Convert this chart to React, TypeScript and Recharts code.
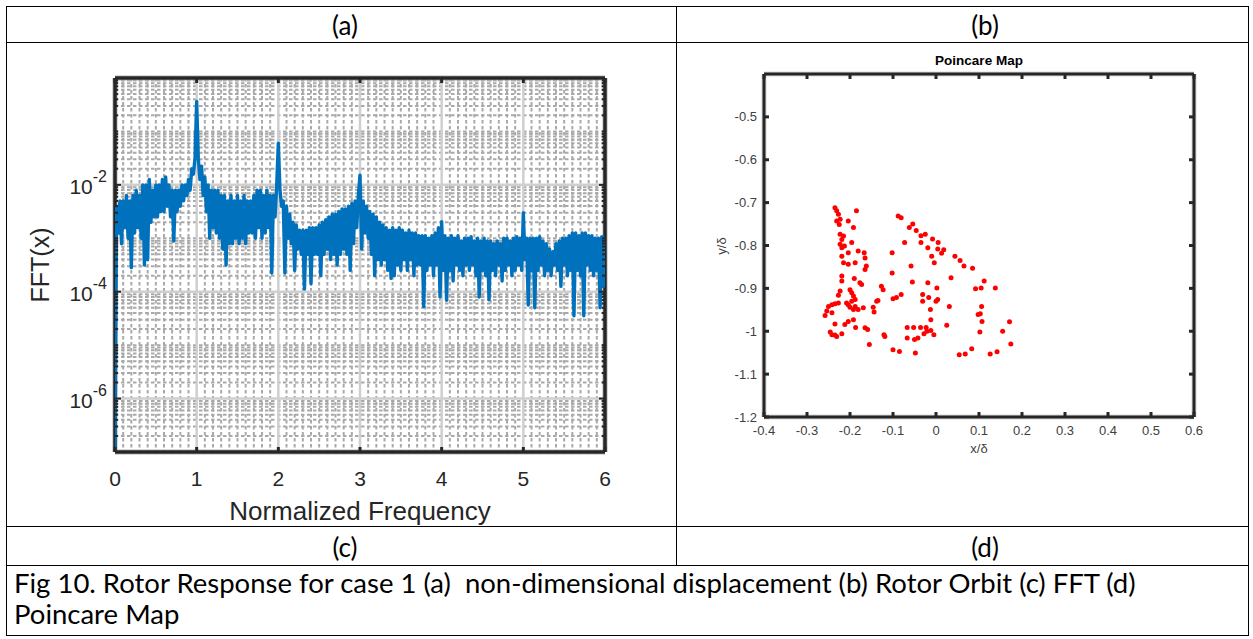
import React from "react";
import {
  LineChart,
  Line,
  XAxis,
  YAxis,
  CartesianGrid,
  ScatterChart,
  Scatter,
} from "recharts";

// FFT(x): log10 of the magnitude, one bin every 0.02 of normalized frequency
const fftBinWidth = 0.02;
const fftLog0to1 = [
  -7.0, -2.4, -2.9, -2.3, -3.1, -2.3, -2.8, -2.2, -3.0, -2.3,
  -3.55, -2.2, -2.9, -2.1, -2.8, -2.2, -3.0, -2.0, -3.5, -2.0,
  -3.4, -1.9, -2.7, -2.1, -2.6, -2.0, -2.6, -2.0, -2.5, -1.9,
  -2.5, -1.85, -2.4, -2.0, -2.6, -2.1, -3.05, -2.1, -2.5, -2.1,
  -2.4, -2.0, -2.3, -2.0, -2.2, -1.9, -2.1, -1.7, -1.8, -1.5,
];
const fftLog1to2 = [
  -0.44, -1.5, -1.9, -1.65, -2.2, -1.85, -2.5, -2.0, -3.0, -2.1,
  -2.8, -2.1, -2.9, -2.1, -3.0, -2.2, -3.2, -2.2, -3.5, -2.3,
  -3.1, -2.2, -3.1, -2.3, -3.0, -2.2, -3.1, -2.3, -3.0, -2.2,
  -3.1, -2.3, -2.9, -2.3, -2.9, -2.2, -3.0, -2.1, -2.8, -2.1,
  -3.0, -2.2, -2.9, -2.1, -2.8, -2.2, -3.65, -2.2, -2.6, -2.0,
];
const fftLog2to3 = [
  -1.22, -2.1, -2.4, -2.3, -3.65, -2.4, -3.0, -2.55, -3.1, -2.7,
  -3.6, -2.75, -3.2, -2.85, -3.3, -2.85, -3.95, -2.85, -3.3, -2.8,
  -3.85, -2.8, -3.3, -2.8, -3.3, -2.75, -3.7, -2.7, -3.3, -2.65,
  -3.2, -2.6, -3.4, -2.55, -3.3, -2.55, -3.5, -2.5, -3.3, -2.45,
  -3.2, -2.45, -3.3, -2.4, -3.6, -2.35, -3.1, -2.3, -2.8, -2.2,
];
const fftLog3to4 = [
  -1.82, -3.2, -2.3, -2.9, -2.4, -3.0, -2.5, -3.3, -2.55, -3.7,
  -2.6, -3.4, -2.7, -3.5, -2.75, -3.4, -2.8, -3.6, -2.85, -3.75,
  -2.8, -3.7, -2.85, -3.5, -2.8, -3.6, -2.85, -3.4, -2.9, -3.6,
  -2.85, -3.4, -2.9, -3.7, -2.9, -3.5, -2.95, -3.5, -2.95, -4.28,
  -2.95, -3.6, -3.0, -3.5, -2.95, -3.7, -2.9, -3.5, -2.8, -4.1,
];
const fftLog4to5 = [
  -2.69, -3.6, -2.95, -4.16, -3.0, -3.6, -2.95, -3.8, -3.0, -3.5,
  -2.95, -3.6, -3.05, -3.7, -3.0, -3.5, -3.0, -3.6, -2.97, -3.5,
  -3.05, -3.7, -3.0, -4.1, -3.05, -3.6, -3.0, -3.7, -3.05, -4.15,
  -3.05, -3.6, -3.1, -3.7, -3.05, -3.5, -3.1, -3.8, -3.0, -3.6,
  -3.0, -3.5, -3.05, -3.7, -3.0, -3.6, -2.97, -3.5, -3.0, -3.6,
];
const fftLog5to6 = [
  -2.52, -3.4, -3.0, -4.25, -3.0, -3.6, -3.0, -4.3, -3.0, -3.6,
  -2.97, -3.5, -3.05, -3.7, -3.1, -3.6, -3.2, -3.7, -3.25, -3.5,
  -3.1, -3.6, -3.05, -3.9, -3.0, -3.5, -3.0, -3.7, -2.95, -3.6,
  -2.9, -4.45, -2.9, -3.6, -2.95, -3.7, -2.9, -4.45, -2.9, -3.5,
  -2.95, -3.6, -2.95, -3.7, -3.0, -3.6, -3.0, -4.3, -2.97, -3.9,
  -2.97,
];

const fftXTicks = [0, 1, 2, 3, 4, 5, 6];
const fftLabelExps = [-6, -4, -2];

// Poincare section samples (x/δ, y/δ)
const orbitX = [
  -0.235, -0.231, -0.227, -0.223, -0.231, -0.225, -0.204, -0.185, -0.192, -0.223,
  -0.219, -0.215, -0.223, -0.219, -0.213, -0.196, -0.204, -0.219, -0.215, -0.204,
  -0.188, -0.181, -0.167, -0.165, -0.162, -0.165, -0.219, -0.219, -0.19, -0.177,
  -0.173, -0.223, -0.227, -0.2, -0.196, -0.192, -0.188, -0.196, -0.204, -0.2,
  -0.208, -0.227, -0.235, -0.242, -0.25, -0.254, -0.258, -0.242, -0.188, -0.181,
  -0.192, -0.169, -0.192, -0.204, -0.212, -0.235, -0.246, -0.242, -0.235, -0.231,
  -0.219, -0.187, -0.165, -0.159, -0.155, -0.146, -0.144, -0.138, -0.135, -0.127,
  -0.123, -0.121, -0.119, -0.102, -0.102, -0.1, -0.092, -0.081, -0.1, -0.085,
  -0.088, -0.081, -0.073, -0.067, -0.067, -0.062, -0.058, -0.055, -0.054, -0.052,
  -0.05, -0.048, -0.046, -0.042, -0.036, -0.035, -0.035, -0.031, -0.031, -0.028,
  -0.025, -0.023, -0.021, -0.019, -0.019, -0.017, -0.013, -0.012, -0.012, -0.01,
  -0.008, -0.005, -0.004, 0.0, 0.002, 0.004, 0.005, 0.004, 0.013, 0.018,
  0.025, 0.031, 0.035, 0.044, 0.056, 0.065, 0.054, 0.068, 0.083, 0.085,
  0.092, 0.105, 0.112, 0.138, 0.106, 0.103, 0.098, 0.107, 0.102, 0.126,
  0.142, 0.155, 0.171, 0.174,
];
const orbitY = [
  -0.712, -0.719, -0.727, -0.739, -0.743, -0.751, -0.743, -0.719, -0.758, -0.774,
  -0.786, -0.778, -0.797, -0.805, -0.801, -0.793, -0.817, -0.825, -0.84, -0.844,
  -0.84, -0.813, -0.817, -0.829, -0.848, -0.856, -0.871, -0.883, -0.877, -0.887,
  -0.891, -0.906, -0.916, -0.903, -0.91, -0.918, -0.926, -0.93, -0.938, -0.944,
  -0.934, -0.934, -0.936, -0.938, -0.942, -0.953, -0.963, -0.957, -0.942, -0.949,
  -0.949, -0.945, -0.973, -0.977, -0.984, -0.983, -1.002, -1.008, -1.009, -1.012,
  -1.006, -0.991, -0.992, -0.996, -1.031, -0.944, -0.955, -0.93, -0.928, -0.895,
  -0.903, -1.008, -1.012, -0.817, -0.864, -0.924, -0.921, -0.914, -1.043, -1.047,
  -0.731, -0.735, -0.793, -0.991, -1.016, -0.758, -0.848, -0.885, -0.75, -0.991,
  -1.019, -1.051, -0.765, -1.016, -0.991, -0.777, -0.793, -0.93, -0.914, -1.006,
  -0.774, -0.991, -1.0, -0.805, -0.887, -0.921, -0.949, -0.973, -0.998, -0.825,
  -0.785, -1.008, -0.84, -0.93, -0.899, -0.926, -0.793, -0.808, -0.818, -0.81,
  -0.986, -0.942, -0.875, -0.825, -0.835, -0.848, -1.055, -1.053, -1.041, -0.853,
  -0.901, -0.899, -0.883, -0.899, -0.942, -0.959, -0.961, -0.977, -1.002, -1.053,
  -1.048, -1.0, -0.978, -1.03,
];

const mapXTicks = [-0.4, -0.3, -0.2, -0.1, 0, 0.1, 0.2, 0.3, 0.4, 0.5, 0.6];
const mapYTicks = [-1.2, -1.1, -1, -0.9, -0.8, -0.7, -0.6, -0.5];

const fftRows = [
  ...fftLog0to1,
  ...fftLog1to2,
  ...fftLog2to3,
  ...fftLog3to4,
  ...fftLog4to5,
  ...fftLog5to6,
].map((lg, i) => ({ f: Number((i * fftBinWidth).toFixed(2)), amp: 10 ** lg }));

const orbitRows = orbitX.map((x, i) => ({ x, y: orbitY[i] }));

// plot-box edges in page pixels
const FFT = { left: 115, top: 78, right: 605, bottom: 452, w: 660, h: 530 };
const MAP = { x0: 676, y0: 43, left: 88, top: 31, right: 518, bottom: 374, w: 577, h: 484 };

const INK = "#262626";
const MATLAB_FONT = "'Liberation Sans', Arial, sans-serif";
const DOC_FONT = "Lato, 'Noto Sans', sans-serif";

// gridline positions for the log FFT axes
const minorFreqs: number[] = [];
for (let i = 1; i < 60; i++) if (i % 10 !== 0) minorFreqs.push(i / 10);
const minorAmps: number[] = [];
const fftYTicks: number[] = [];
for (let e = -7; e < 0; e++) {
  for (let m = 1; m <= 9; m++) {
    fftYTicks.push(m * 10 ** e);
    if (m > 1 || !fftLabelExps.includes(e)) minorAmps.push(m * 10 ** e);
  }
}
fftYTicks.push(1);
const majorAmps = fftLabelExps.map((e) => 10 ** e);

function FftXTick({ x, payload }: any) {
  return (
    <g>
      <line x1={x} x2={x} y1={FFT.bottom} y2={FFT.bottom - 5} stroke={INK} strokeWidth={3} />
      <line x1={x} x2={x} y1={FFT.top} y2={FFT.top + 5} stroke={INK} strokeWidth={3} />
      <text x={x} y={FFT.bottom + 34} textAnchor="middle" fontSize={21} fill={INK} fontFamily={MATLAB_FONT}>
        {payload.value}
      </text>
    </g>
  );
}

function FftYTick({ y, payload }: any) {
  const v = payload.value as number;
  const exp = Math.round(Math.log10(v));
  const isDecade = Math.abs(v / 10 ** exp - 1) < 1e-6;
  const major = isDecade && fftLabelExps.includes(exp);
  const len = major ? 6 : 3;
  return (
    <g>
      <line x1={FFT.left} x2={FFT.left + len} y1={y} y2={y} stroke={INK} strokeWidth={2} />
      <line x1={FFT.right} x2={FFT.right - len} y1={y} y2={y} stroke={INK} strokeWidth={2} />
      {major && (
        <text x={FFT.left - 8} y={y + 9} textAnchor="end" fontSize={21} fill={INK} fontFamily={MATLAB_FONT}>
          10
          <tspan dy={-12} fontSize={16}>
            {exp}
          </tspan>
        </text>
      )}
    </g>
  );
}

function MapXTick({ x, payload }: any) {
  return (
    <g>
      <line x1={x} x2={x} y1={MAP.bottom} y2={MAP.bottom - 5} stroke={INK} strokeWidth={3} />
      <line x1={x} x2={x} y1={MAP.top} y2={MAP.top + 5} stroke={INK} strokeWidth={3} />
      <text x={x} y={MAP.bottom + 18} textAnchor="middle" fontSize={13} fill="#404040" fontFamily={MATLAB_FONT}>
        {String(payload.value)}
      </text>
    </g>
  );
}

function MapYTick({ y, payload }: any) {
  return (
    <g>
      <line x1={MAP.left} x2={MAP.left + 5} y1={y} y2={y} stroke={INK} strokeWidth={3} />
      <line x1={MAP.right} x2={MAP.right - 5} y1={y} y2={y} stroke={INK} strokeWidth={3} />
      <text x={MAP.left - 7} y={y + 4.5} textAnchor="end" fontSize={13} fill="#404040" fontFamily={MATLAB_FONT}>
        {String(payload.value)}
      </text>
    </g>
  );
}

function RedDot({ cx, cy }: any) {
  return <circle cx={cx} cy={cy} r={2.5} fill="#ff0000" />;
}

function Rule({ x1, y1, x2, y2 }: { x1: number; y1: number; x2: number; y2: number }) {
  return (
    <div
      style={{
        position: "absolute",
        left: Math.min(x1, x2),
        top: Math.min(y1, y2),
        width: Math.max(1, x2 - x1),
        height: Math.max(1, y2 - y1),
        background: "#000",
      }}
    />
  );
}

function CellText({ cx, cy, children }: { cx: number; cy: number; children: React.ReactNode }) {
  return (
    <div
      style={{
        position: "absolute",
        left: cx - 100,
        top: cy - 17,
        width: 200,
        height: 34,
        lineHeight: "34px",
        textAlign: "center",
        fontFamily: DOC_FONT,
        fontSize: 26,
        color: "#000",
      }}
    >
      {children}
    </div>
  );
}

function FftChart() {
  return (
    <div style={{ position: "absolute", left: 0, top: 0 }}>
      <LineChart
        width={FFT.w}
        height={FFT.h}
        data={fftRows}
        margin={{ top: FFT.top, right: FFT.w - FFT.right, bottom: 0, left: 0 }}
      >
        <CartesianGrid
          horizontalValues={minorAmps}
          verticalValues={minorFreqs}
          stroke="#a9a9a9"
          strokeWidth={2}
          strokeDasharray="3.5 2.5"
        />
        <CartesianGrid
          horizontalValues={majorAmps}
          verticalValues={fftXTicks}
          stroke="#cfcfcf"
          strokeWidth={2.5}
        />
        <CartesianGrid
          horizontalValues={[1e-7, 1]}
          verticalValues={[0, 6]}
          stroke="#b0b0b0"
          strokeWidth={6}
          strokeOpacity={0.5}
        />
        <CartesianGrid horizontalValues={[1e-7, 1]} verticalValues={[0, 6]} stroke={INK} strokeWidth={3.5} />
        <XAxis
          dataKey="f"
          type="number"
          domain={[0, 6]}
          ticks={fftXTicks}
          interval={0}
          height={FFT.h - FFT.bottom}
          axisLine={false}
          tickLine={false}
          tick={(p: any) => <FftXTick {...p} />}
          allowDataOverflow
        />
        <YAxis
          type="number"
          scale="log"
          domain={[1e-7, 1]}
          ticks={fftYTicks}
          interval={0}
          width={FFT.left}
          axisLine={false}
          tickLine={false}
          tick={(p: any) => <FftYTick {...p} />}
          allowDataOverflow
        />
        <Line
          type="linear"
          dataKey="amp"
          stroke="#0072BD"
          strokeWidth={3.4}
          strokeLinejoin="round"
          dot={false}
          activeDot={false}
          isAnimationActive={false}
        />
      </LineChart>
    </div>
  );
}

function PoincareChart() {
  return (
    <div style={{ position: "absolute", left: MAP.x0, top: MAP.y0 }}>
      <ScatterChart
        width={MAP.w}
        height={MAP.h}
        margin={{ top: MAP.top, right: MAP.w - MAP.right, bottom: 0, left: 0 }}
      >
        <CartesianGrid
          horizontalValues={[-1.2, -0.4]}
          verticalValues={[-0.4, 0.6]}
          stroke="#b0b0b0"
          strokeWidth={5}
          strokeOpacity={0.5}
        />
        <CartesianGrid horizontalValues={[-1.2, -0.4]} verticalValues={[-0.4, 0.6]} stroke={INK} strokeWidth={3} />
        <XAxis
          dataKey="x"
          type="number"
          domain={[-0.4, 0.6]}
          ticks={mapXTicks}
          interval={0}
          height={MAP.h - MAP.bottom}
          axisLine={false}
          tickLine={false}
          tick={(p: any) => <MapXTick {...p} />}
          allowDataOverflow
        />
        <YAxis
          dataKey="y"
          type="number"
          domain={[-1.2, -0.4]}
          ticks={mapYTicks}
          interval={0}
          width={MAP.left}
          axisLine={false}
          tickLine={false}
          tick={(p: any) => <MapYTick {...p} />}
          allowDataOverflow
        />
        <Scatter data={orbitRows} fill="#ff0000" shape={<RedDot />} isAnimationActive={false} />
      </ScatterChart>
    </div>
  );
}

export default function App() {
  return (
    <div
      style={{
        position: "absolute",
        left: 0,
        top: 0,
        width: 1253,
        height: 639,
        background: "#fff",
        overflow: "hidden",
      }}
    >
      {/* table rules */}
      <Rule x1={6} y1={6} x2={1249} y2={7} />
      <Rule x1={6} y1={42} x2={1249} y2={43} />
      <Rule x1={6} y1={526} x2={1249} y2={527} />
      <Rule x1={6} y1={565} x2={1249} y2={566} />
      <Rule x1={6} y1={635} x2={1249} y2={636} />
      <Rule x1={6} y1={6} x2={7} y2={636} />
      <Rule x1={1248} y1={6} x2={1249} y2={636} />
      <Rule x1={676} y1={6} x2={677} y2={566} />

      <CellText cx={345} cy={25}>(a)</CellText>
      <CellText cx={985} cy={25}>(b)</CellText>
      <CellText cx={345} cy={547}>(c)</CellText>
      <CellText cx={985} cy={547}>(d)</CellText>

      <div
        style={{
          position: "absolute",
          left: 14,
          top: 567,
          width: 1230,
          fontFamily: DOC_FONT,
          fontSize: 27.5,
          lineHeight: "31px",
          color: "#000",
          whiteSpace: "pre",
        }}
      >
        {"Fig 10. Rotor Response for case 1 (a)  non-dimensional displacement (b) Rotor Orbit (c) FFT (d)\nPoincare Map"}
      </div>

      <FftChart />
      <div
        style={{
          position: "absolute",
          left: FFT.left - 40,
          width: FFT.right - FFT.left + 80,
          top: 496,
          textAlign: "center",
          fontFamily: MATLAB_FONT,
          fontSize: 26,
          color: INK,
        }}
      >
        Normalized Frequency
      </div>
      <div
        style={{
          position: "absolute",
          left: 40 - 60,
          top: (FFT.top + FFT.bottom) / 2 - 15,
          width: 120,
          height: 30,
          lineHeight: "30px",
          textAlign: "center",
          transform: "rotate(-90deg)",
          fontFamily: MATLAB_FONT,
          fontSize: 25,
          color: INK,
        }}
      >
        FFT(x)
      </div>

      <PoincareChart />
      <div
        style={{
          position: "absolute",
          left: MAP.x0 + MAP.left,
          width: MAP.right - MAP.left,
          top: 53,
          textAlign: "center",
          fontFamily: MATLAB_FONT,
          fontWeight: "bold",
          fontSize: 13.5,
          color: "#000",
        }}
      >
        Poincare Map
      </div>
      <div
        style={{
          position: "absolute",
          left: MAP.x0 + MAP.left,
          width: MAP.right - MAP.left,
          top: 441,
          textAlign: "center",
          fontFamily: MATLAB_FONT,
          fontSize: 13,
          color: "#404040",
        }}
      >
        x/δ
      </div>
      <div
        style={{
          position: "absolute",
          left: 722 - 30,
          top: (MAP.y0 + MAP.top + MAP.y0 + MAP.bottom) / 2 - 10,
          width: 60,
          height: 20,
          lineHeight: "20px",
          textAlign: "center",
          transform: "rotate(-90deg)",
          fontFamily: MATLAB_FONT,
          fontSize: 13,
          color: "#404040",
        }}
      >
        y/δ
      </div>
    </div>
  );
}
